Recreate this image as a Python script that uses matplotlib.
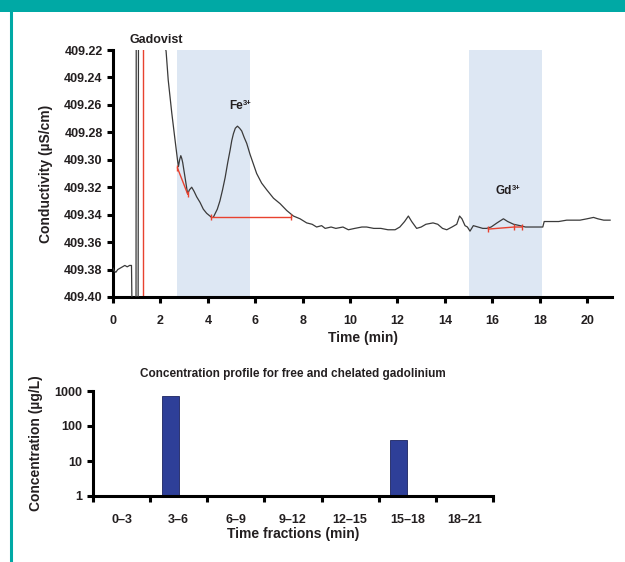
import numpy as np
import matplotlib.pyplot as plt
import matplotlib.ticker as mticker
from matplotlib.patches import Rectangle
from matplotlib.lines import Line2D

plt.rcParams["font.family"] = ["Liberation Sans", "DejaVu Sans"]
plt.rcParams["font.weight"] = "bold"

TEAL = "#00a9a5"
TXT = "#231f20"
TRACE = "#3a3a3a"
RED = "#e8422f"
SHADE = "#dde7f3"
BAR = "#2e3f98"

# conductivity trace (min, uS/cm)
time_min = [0.0, 0.05, 0.12, 0.2, 0.3, 0.4, 0.5, 0.6, 0.7, 0.76, 0.78, 0.81, 0.97, 0.99, 1.5, 2.0,
            2.17, 2.24, 2.33, 2.48, 2.62, 2.72, 2.76, 2.81, 2.86, 2.90, 2.94, 3.04, 3.15,
            3.22, 3.32, 3.42, 3.53, 3.67, 3.81, 3.95, 4.09, 4.16, 4.23, 4.30, 4.40,
            4.51, 4.62, 4.73, 4.84, 4.94, 5.01, 5.08, 5.16, 5.25, 5.34, 5.43, 5.54,
            5.64, 5.78, 5.92, 6.06, 6.27, 6.49, 6.77, 7.05, 7.33, 7.61, 7.89, 8.17,
            8.40, 8.59, 8.8, 8.95, 9.2, 9.4, 9.7, 9.93, 10.2, 10.5, 10.7, 11.0, 11.3,
            11.6, 11.9, 12.1, 12.3, 12.46, 12.6, 12.81, 13.0, 13.2, 13.5, 13.7, 13.9,
            14.08, 14.3, 14.5, 14.62, 14.72, 14.85, 14.95, 15.06, 15.2, 15.4, 15.6,
            15.76, 15.95, 16.2, 16.47, 16.65, 16.9, 17.17, 17.4, 17.73, 18.0, 18.13,
            18.19, 18.5, 18.8, 19.14, 19.4, 19.7, 20.0, 20.27, 20.45, 20.7, 20.97]
conductivity = [409.379, 409.381, 409.382, 409.380, 409.379, 409.378, 409.377, 409.378,
                409.377, 409.377, 409.377, 409.42, 409.42, 409.0, 409.0, 409.0,
                409.215, 409.221, 409.242, 409.266, 409.286, 409.300, 409.305, 409.300,
                409.297, 409.299, 409.302, 409.313, 409.325, 409.322, 409.320, 409.323,
                409.327, 409.331, 409.336, 409.339, 409.341, 409.342, 409.342, 409.3395,
                409.336, 409.330, 409.322, 409.313, 409.302, 409.293, 409.286, 409.281,
                409.277, 409.2755, 409.277, 409.279, 409.284, 409.288, 409.296, 409.303,
                409.310, 409.317, 409.322, 409.328, 409.332, 409.337, 409.341, 409.343,
                409.346, 409.347, 409.349, 409.348, 409.350, 409.349, 409.350, 409.349,
                409.351, 409.350, 409.349, 409.349, 409.350, 409.350, 409.351, 409.351,
                409.349, 409.345, 409.341, 409.345, 409.350, 409.349, 409.347, 409.346,
                409.347, 409.350, 409.351, 409.349, 409.347, 409.341, 409.343, 409.348,
                409.349, 409.352, 409.348, 409.349, 409.350, 409.350, 409.349, 409.346,
                409.343, 409.345, 409.347, 409.348, 409.349, 409.349, 409.349, 409.349,
                409.345, 409.345, 409.345, 409.344, 409.344, 409.344, 409.343, 409.342,
                409.343, 409.344, 409.344]

# second vertical trace line after injection
spike_x = [1.06, 1.09]
spike_y = [409.402, 409.0]
injection_time = 1.28

# shaded collection windows
windows = [(2.7, 5.8), (15.0, 18.1)]

# red peak baselines
baselines = [
    ([2.72, 3.15], [409.306, 409.325]),
    ([4.13, 7.50], [409.342, 409.342]),
    ([15.84, 16.92, 17.25], [409.3505, 409.349, 409.349]),
]

# fraction concentrations
fractions = ["0\u20133", "3\u20136", "6\u20139", "9\u201312", "12\u201315", "15\u201318", "18\u201321"]
concentration = [0, 700, 0, 0, 0, 40, 0]

fig = plt.figure(figsize=(6.25, 5.62), dpi=100)
fig.patch.set_facecolor("white")

# teal frame
fig.add_artist(Rectangle((0, 1 - 12 / 562), 1, 12 / 562, transform=fig.transFigure,
                         facecolor=TEAL, edgecolor="none"))
fig.add_artist(Line2D([10.5 / 625, 10.5 / 625], [0, 1], transform=fig.transFigure,
                      color=TEAL, linewidth=2.2))


def style_axes(ax):
    for side in ["top", "right"]:
        ax.spines[side].set_visible(False)
    for side in ["left", "bottom"]:
        ax.spines[side].set_linewidth(2.2)
        ax.spines[side].set_color("black")
    ax.tick_params(direction="out", length=4, width=2.2, labelsize=9,
                   colors="black", labelcolor=TXT)


def ion_label(ax, x, y, base, sup):
    t = ax.text(x, y, base, ha="center", va="bottom", fontsize=8.5,
                fontweight="bold", color=TXT)
    ax.annotate(sup, xy=(1, 0.4), xycoords=t, xytext=(-0.3, 0), textcoords="offset points",
                ha="left", va="bottom", fontsize=5.5, fontweight="bold", color=TXT)


# --- top: conductivity trace
ax1 = fig.add_axes([113 / 625, 1 - 297 / 562, 499 / 625, 247 / 562])
style_axes(ax1)
for x0, x1 in windows:
    ax1.axvspan(x0, x1, color=SHADE, zorder=0, linewidth=0)
ax1.axvline(injection_time, color=RED, linewidth=1.0, zorder=2)
ax1.plot(time_min, conductivity, color=TRACE, linewidth=0.9, zorder=3)
ax1.plot(spike_x, spike_y, color=TRACE, linewidth=0.9, zorder=3)
for bx, by in baselines:
    ax1.plot(bx, by, color=RED, linewidth=1.0, marker="|", markersize=5,
             markeredgewidth=1.0, zorder=4)

ax1.set_xlim(0, 21.05)
ax1.set_ylim(409.40, 409.22)
ax1.set_xticks(np.arange(0, 21, 2))
ax1.set_yticks(np.arange(409.22, 409.401, 0.02))
ax1.yaxis.set_major_formatter(mticker.FormatStrFormatter("%.2f"))
ax1.tick_params(axis="x", pad=9)
ax1.set_xlabel("Time (min)", fontsize=10, fontweight="bold", color=TXT, labelpad=3)
ax1.set_ylabel("Conductivity (\u00b5S/cm)", fontsize=10, fontweight="bold", color=TXT, labelpad=8)
for lbl in ax1.get_xticklabels() + ax1.get_yticklabels():
    lbl.set_fontweight("bold")

ax1.text(1.81, 409.217, "Gadovist", ha="center", va="bottom", fontsize=9,
         fontweight="bold", color=TXT, clip_on=False)
ion_label(ax1, 5.2, 409.265, "Fe", "3+")
ion_label(ax1, 16.5, 409.327, "Gd", "3+")

# --- bottom: concentration bars
ax2 = fig.add_axes([93 / 625, 1 - 496 / 562, 400 / 625, 105 / 562])
style_axes(ax2)
pos = np.arange(len(fractions))
ax2.bar(pos - 0.3, concentration, width=0.3, align="edge", color=BAR,
        edgecolor="#1c2460", linewidth=0.6, log=True)
ax2.set_yscale("log")
ax2.set_ylim(1, 1000)
ax2.set_xlim(-0.5, len(fractions) - 0.5)
ax2.set_yticks([1, 10, 100, 1000])
ax2.yaxis.set_major_formatter(mticker.FuncFormatter(lambda v, p: f"{v:g}"))
ax2.yaxis.set_minor_locator(mticker.NullLocator())
ax2.set_xticks(pos)
ax2.set_xticklabels(fractions, fontweight="bold")
ax2.set_xticks(np.arange(-0.5, len(fractions), 1), minor=True)
ax2.tick_params(axis="x", which="major", length=0, pad=13)
ax2.tick_params(axis="x", which="minor", direction="out", length=4, width=2.2)
for lbl in ax2.get_yticklabels():
    lbl.set_fontweight("bold")
ax2.set_xlabel("Time fractions (min)", fontsize=10, fontweight="bold", color=TXT, labelpad=1)
ax2.set_ylabel("Concentration (\u00b5g/L)", fontsize=10, fontweight="bold", color=TXT, labelpad=8)
ax2.set_title("Concentration profile for free and chelated gadolinium", fontsize=8.5,
              fontweight="bold", color=TXT, pad=10)

fig.savefig("out.png", dpi=100, facecolor=fig.get_facecolor())
